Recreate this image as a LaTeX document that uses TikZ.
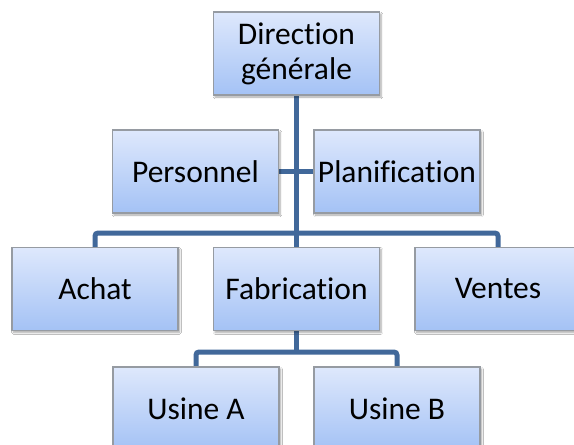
\documentclass[tikz,border=0pt]{standalone}
\usepackage{fontspec}
\setmainfont{Carlito}[Ligatures=NoCommon]
\usetikzlibrary{shadows.blur}
\definecolor{boxtop}{RGB}{222,232,252}
\definecolor{boxbottom}{RGB}{164,194,245}
\definecolor{boxline}{RGB}{150,155,162}
\definecolor{linkblue}{RGB}{65,104,154}
\tikzset{
  unit/.style={draw=boxline, line width=1.2pt, top color=boxtop, bottom color=boxbottom,
    minimum width=166pt, minimum height=83pt, inner sep=0pt, align=center,
    font=\fontsize{31.5}{35}\selectfont,
    blur shadow={shadow xshift=1.5pt, shadow yshift=-2pt, shadow blur steps=6, shadow opacity=35}},
  link/.style={draw=linkblue, line width=5pt, rounded corners=3pt}
}
\begin{document}
\begin{tikzpicture}[x=1pt, y=-1pt]
  \clip (0,0) rectangle (574,445);
  \fill[white] (0,0) rectangle (574,445);
  % positions of the boxes
  \coordinate (pdg) at (296.5,53.5);
  \coordinate (pper) at (195.5,171.5);
  \coordinate (ppla) at (397,171.5);
  \coordinate (pach) at (95,289);
  \coordinate (pfab) at (296.5,289);
  \coordinate (pven) at (498,289);
  \coordinate (pua) at (196,408.5);
  \coordinate (pub) at (397,408.5);
  % connectors
  \coordinate (bar) at (296.5,233);
  \coordinate (lowbar) at (296.5,352);
  \draw[link] (pdg) -- (pfab);
  \draw[link] (pper) -- (ppla);
  \draw[link] (pach) |- (bar) -| (pven);
  \draw[link] (pfab) -- (lowbar);
  \draw[link] (pua) |- (lowbar) -| (pub);
  % boxes
  \node[unit] (dg) at (pdg) {Direction\\générale};
  \node[unit] (per) at (pper) {Personnel};
  \node[unit] (pla) at (ppla) {Planification};
  \node[unit] (ach) at (pach) {Achat};
  \node[unit] (fab) at (pfab) {Fabrication};
  \node[unit] (ven) at (pven) {Ventes};
  \node[unit] (ua) at (pua) {Usine A};
  \node[unit] (ub) at (pub) {Usine B};
\end{tikzpicture}
\end{document}
